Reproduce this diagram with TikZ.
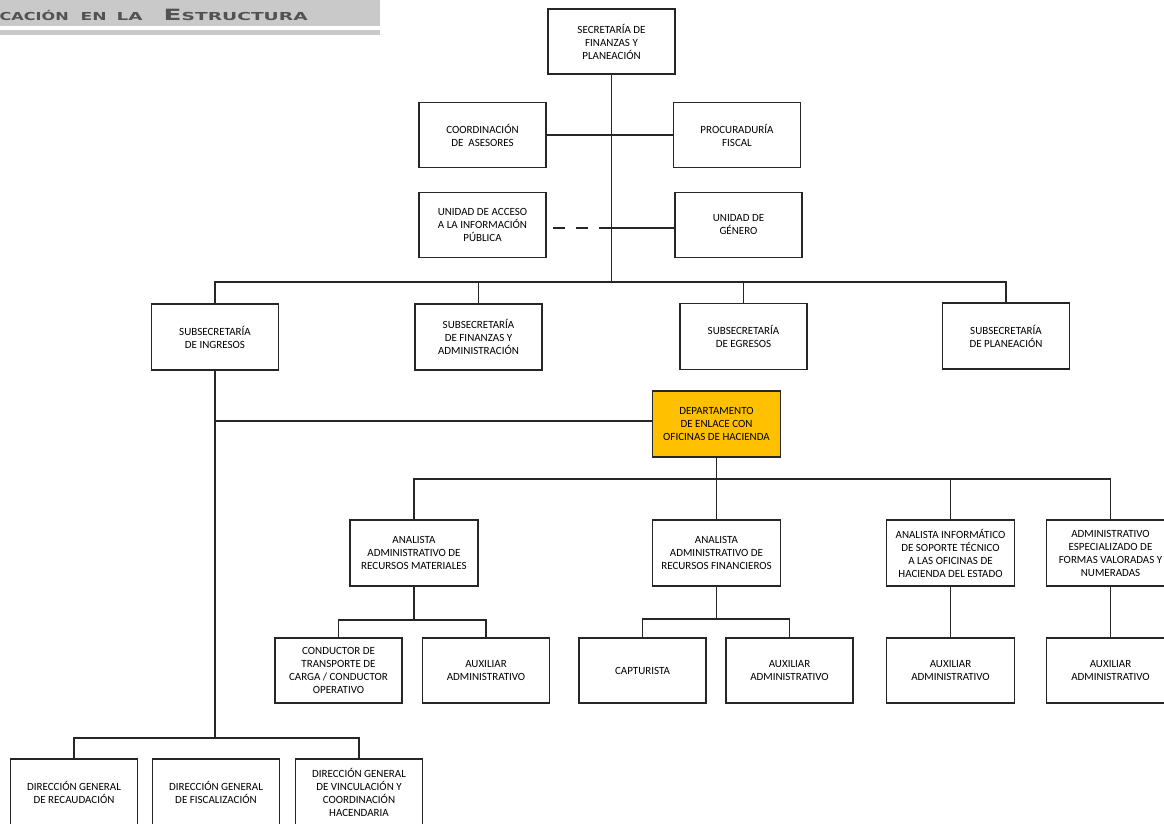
\documentclass[tikz,border=0pt]{standalone}
\usepackage{graphicx}
\usepackage{fontspec}
\setmainfont{Carlito}
\newfontfamily\headfont{DejaVu Sans}
\usetikzlibrary{calc}

\definecolor{linegray}{HTML}{262626}
\definecolor{gold}{HTML}{FFC000}
\definecolor{bandgray}{HTML}{C9C9C9}
\definecolor{headtext}{HTML}{525252}

% stretch a word horizontally to a given width (in pt), keeping its height
\newsavebox\wordbox
\newcommand\fitword[2]{\sbox\wordbox{#2}%
  \pgfmathsetmacro\wordscale{#1/\wd\wordbox}%
  \scalebox{\wordscale}[1]{\usebox\wordbox}}
\newcommand\headsmall{\headfont\bfseries\fontsize{11}{13}\selectfont}
\newcommand\headbig{\headfont\bfseries\fontsize{15.5}{17}\selectfont}

\tikzset{
  orgbox/.style={draw=linegray, line width=1.2pt, minimum width=127pt,
    minimum height=65pt, inner sep=0pt, align=center,
    font=\fontsize{11}{13}\selectfont, text=black},
  deptbox/.style={orgbox, fill=gold},
  link/.style={draw=linegray, line width=1.2pt},
  dashlink/.style={link, dash pattern=on 12pt off 11pt},
  headword/.style={anchor=base west, inner sep=0pt, text=headtext},
}

\begin{document}
\begin{tikzpicture}[x=1pt,y=-1pt]
\useasboundingbox (0,0) rectangle (1164,823);
\clip (0,0) rectangle (1164,823);

% page heading band
\fill[bandgray] (0,0) rectangle (380,26);
\fill[bandgray] (0,30) rectangle (380,35);
\node[headword] (hw1) at (-0.5,20.7) {\fitword{69}{\headsmall CACIÓN}};
\node[headword] (hw2) at (80.5,20.7) {\fitword{26}{\headsmall EN}};
\node[headword] (hw3) at (116.5,20.7) {\fitword{26}{\headsmall LA}};
\node[headword] (hw4) at (163.5,20.7) {\fitword{144}{{\headbig E}\headsmall STRUCTURA}};

% top level
\node[orgbox] (sec) at (611.5,41.5) {SECRETARÍA DE\\FINANZAS Y\\PLANEACIÓN};
\node[orgbox] (coord) at (482.5,135) {COORDINACIÓN\\DE\ \ ASESORES};
\node[orgbox] (proc) at (737,135) {PROCURADURÍA\\FISCAL};
\node[orgbox] (acc) at (482.5,225) {UNIDAD DE ACCESO\\A LA INFORMACIÓN\\PÚBLICA};
\node[orgbox] (gen) at (738.5,225) {UNIDAD DE\\GÉNERO};

% undersecretariats
\node[orgbox, minimum height=66pt] (sing) at (215,337) {SUBSECRETARÍA\\DE INGRESOS};
\node[orgbox, minimum height=66pt] (sfin) at (478.5,337) {SUBSECRETARÍA\\DE FINANZAS Y\\ADMINISTRACIÓN};
\node[orgbox, minimum height=66pt] (segr) at (743.5,336.5) {SUBSECRETARÍA\\DE EGRESOS};
\node[orgbox, minimum height=66pt] (spla) at (1006,336) {SUBSECRETARÍA\\DE PLANEACIÓN};

% department
\node[deptbox, minimum width=128pt, minimum height=66pt] (dept) at (716.5,424)
  {DEPARTAMENTO\\DE ENLACE CON\\OFICINAS DE HACIENDA};

% analysts
\node[orgbox, minimum width=128pt, minimum height=66pt] (amat) at (414,553) {ANALISTA\\ADMINISTRATIVO DE\\RECURSOS MATERIALES};
\node[orgbox, minimum width=128pt, minimum height=66pt] (afin) at (716.5,553) {ANALISTA\\ADMINISTRATIVO DE\\RECURSOS FINANCIEROS};
\node[orgbox, minimum width=128pt, minimum height=66pt] (ainf) at (950.5,553) {ANALISTA INFORMÁTICO\\DE SOPORTE TÉCNICO\\A LAS OFICINAS DE\\HACIENDA DEL ESTADO};
\node[orgbox, minimum width=128pt, minimum height=66pt] (aesp) at (1110.5,553) {ADMINISTRATIVO\\ESPECIALIZADO DE\\FORMAS VALORADAS Y\\NUMERADAS};

% staff
\node[orgbox] (cond) at (338.5,670.5) {CONDUCTOR DE\\TRANSPORTE DE\\CARGA / CONDUCTOR\\OPERATIVO};
\node[orgbox] (auxm) at (486,670.5) {AUXILIAR\\ADMINISTRATIVO};
\node[orgbox] (capt) at (642.5,670.5) {CAPTURISTA};
\node[orgbox] (auxf) at (789.5,670.5) {AUXILIAR\\ADMINISTRATIVO};
\node[orgbox, minimum width=128pt] (auxi) at (950.5,670.5) {AUXILIAR\\ADMINISTRATIVO};
\node[orgbox, minimum width=128pt] (auxe) at (1110.5,670.5) {AUXILIAR\\ADMINISTRATIVO};

% general directorates
\node[orgbox, minimum height=66pt] (dgr) at (74,792) {DIRECCIÓN GENERAL\\DE RECAUDACIÓN};
\node[orgbox, minimum height=66pt] (dgf) at (216,792) {DIRECCIÓN GENERAL\\DE FISCALIZACIÓN};
\node[orgbox, minimum height=66pt] (dgv) at (359,792) {DIRECCIÓN GENERAL\\DE VINCULACIÓN Y\\COORDINACIÓN\\HACENDARIA};

% junction points
\coordinate (hub) at (611.5,282);
\coordinate (dj) at (611.5,228);
\coordinate (ib) at (215,738);
\coordinate (hub2) at (716.5,479);
\coordinate (hm) at (414,620);
\coordinate (hf) at (716.5,619);

% main trunk and staff units
\draw[link] (sec.south) -- (hub);
\draw[link] (coord.east) -- (proc.west);
\draw[dashlink] ([xshift=6pt,yshift=-3pt]acc.east) -- (dj);
\draw[link] (dj) -- ([yshift=-3pt]gen.west);

% undersecretariat bus
\draw[link] (sing.north) -- (sing.north |- hub) -- (spla.north |- hub) -- (spla.north);
\draw[link] (sfin.north) -- (sfin.north |- hub);
\draw[link] (segr.north) -- (segr.north |- hub);

% revenue branch
\draw[link] (sing.south) -- (ib);
\draw[link] (sing.south |- 0,421) -- (dept.west |- 0,421);
\draw[link] (dgr.north) -- (dgr.north |- ib) -- (dgv.north |- ib) -- (dgv.north);

% department branch
\draw[link] (dept.south) -- (afin.north);
\draw[link] (amat.north) -- (amat.north |- hub2) -- (aesp.north |- hub2) -- (aesp.north);
\draw[link] (ainf.north) -- (ainf.north |- hub2);

% staff under analysts
\draw[link] (amat.south) -- (hm);
\draw[link] (cond.north) -- (cond.north |- hm) -- (auxm.north |- hm) -- (auxm.north);
\draw[link] (afin.south) -- (hf);
\draw[link] (capt.north) -- (capt.north |- hf) -- (auxf.north |- hf) -- (auxf.north);
\draw[link] (ainf.south) -- (auxi.north);
\draw[link] (aesp.south) -- (auxe.north);
\end{tikzpicture}
\end{document}
